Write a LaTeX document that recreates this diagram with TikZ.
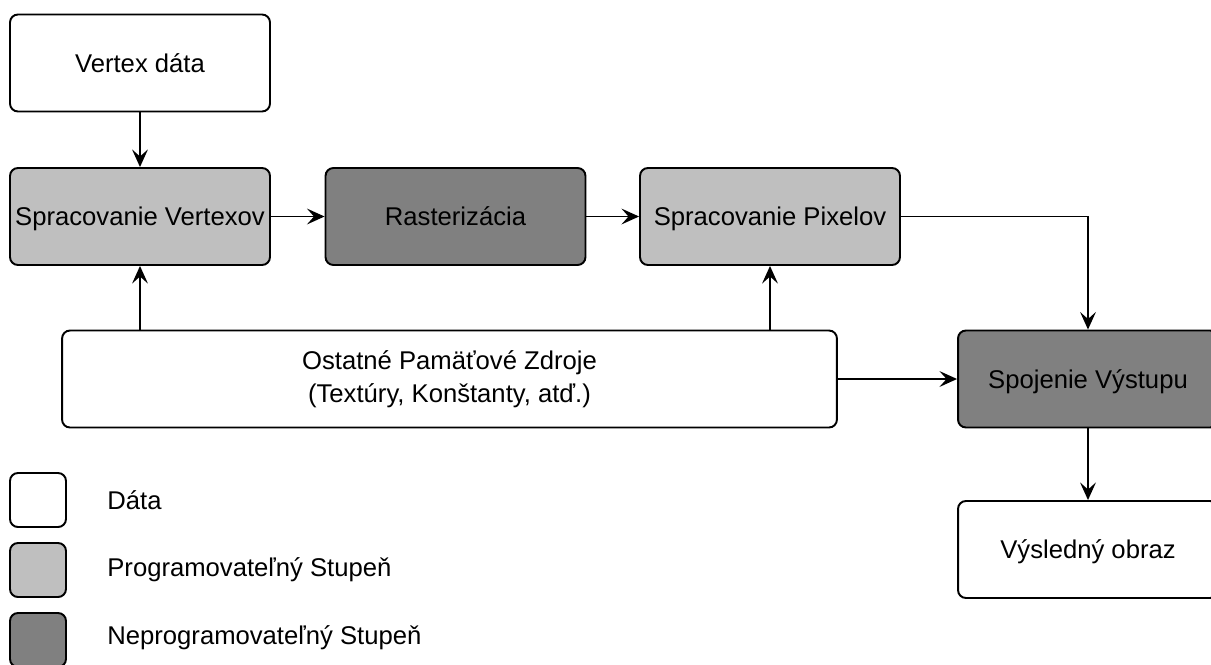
\documentclass[tikz,border=0pt]{standalone}
\usepackage{fontspec}
\setmainfont{Liberation Sans}
\usetikzlibrary{arrows.meta}

\begin{document}
\begin{tikzpicture}[x=0.02cm,y=-0.02cm,
    box/.style={draw,line width=1.1pt,rounded corners=4.5pt,inner sep=0pt,
      minimum width=5.2cm,minimum height=1.94cm,align=center,
      text height=12pt,text depth=1.5pt,
      font=\fontsize{14.6}{17.5}\selectfont},
    dat/.style={box,fill=white},
    prog/.style={box,fill=gray!50!white},
    neprog/.style={box,fill=gray},
    arr/.style={line width=1.1pt,-{Stealth[length=10pt,width=9pt,inset=4pt]}},
    legbox/.style={draw,line width=1.1pt,rounded corners=4.5pt,
      minimum width=1.12cm,minimum height=1.08cm},
    legtxt/.style={anchor=west,inner sep=0pt,font=\fontsize{14.6}{17.5}\selectfont}]
 \clip (0,0) rectangle (1211,664);
 \fill[white] (0,0) rectangle (1211,664);
    % pipeline stages
    \node[dat] (vd) at (140,63) {Vertex dáta};
    \node[prog] (sv) at (140,216.5) {Spracovanie Vertexov};
    \node[neprog] (ra) at (455.5,216.5) {Rasterizácia};
    \node[prog] (sp) at (770,216.5) {Spracovanie Pixelov};
    \node[dat,minimum width=15.5cm,text height=,text depth=] (oz) at (449.5,379)
      {Ostatné Pamäťové Zdroje\\[1pt](Textúry, Konštanty, atď.)};
    \node[neprog] (sj) at (1088,379) {Spojenie Výstupu};
    \node[dat] (vo) at (1088,549.5) {Výsledný obraz};
    % connections
    \draw[arr] (vd) -- (sv);
    \draw[arr] (sv) -- (ra);
    \draw[arr] (ra) -- (sp);
    \draw[arr] (sp.east) -| (sj.north);
    \draw[arr] (sv.south |- oz.north) -- (sv.south);
    \draw[arr] (sp.south |- oz.north) -- (sp.south);
    \draw[arr] (oz) -- (sj);
    \draw[arr] (sj) -- (vo);
    % legend
    \node[legbox,fill=white] (l1) at (38,500) {};
    \node[legbox,fill=gray!50!white] (l2) at (38,570) {};
    \node[legbox,fill=gray] (l3) at (38,640) {};
    \node[legtxt] (t1) at (107,500) {Dáta};
    \node[legtxt] (t2) at (107,570) {Programovateľný Stupeň};
    \node[legtxt] (t3) at (107,638) {Neprogramovateľný Stupeň};
\end{tikzpicture}
\end{document}
